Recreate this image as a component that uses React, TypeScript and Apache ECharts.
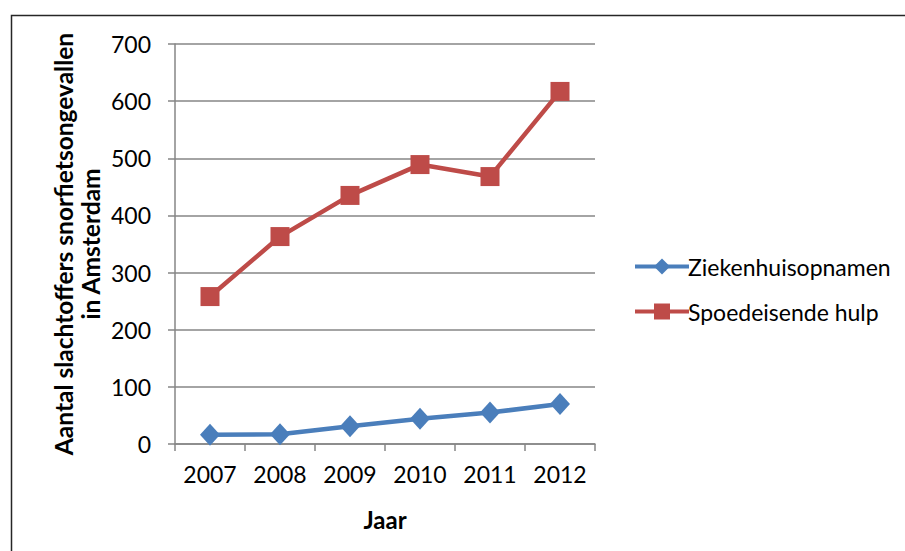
import React, { useEffect, useRef } from "react";
import * as echarts from "echarts";

const categories = ["2007", "2008", "2009", "2010", "2011", "2012"];
const ziekenhuisopnamen = [16, 17, 31, 44, 55, 70];
const spoedeisendeHulp = [258, 363, 435, 489, 468, 617];
const seriesNames = ["Ziekenhuisopnamen", "Spoedeisende hulp"];
const yAxisTitle = "Aantal slachtoffers snorfietsongevallen\nin Amsterdam";
const xAxisTitle = "Jaar";

const FONT = "Lato, 'Open Sans', sans-serif";

export default function App() {
  const ref = useRef<HTMLDivElement>(null);
  useEffect(() => {
    if (!ref.current) return;
    const chart = echarts.init(ref.current, null, { renderer: "svg" });
    chart.setOption({
      animation: false,
      backgroundColor: "#ffffff",
      textStyle: { fontFamily: FONT },
      graphic: [
        {
          type: "rect",
          shape: { x: 11.5, y: 15.5, width: 910, height: 560 },
          style: { fill: "none", stroke: "#262626", lineWidth: 1.5 },
          silent: true,
        },
      ],
      grid: { left: 175, right: 310, top: 44, bottom: 107, containLabel: false },
      legend: {
        orient: "vertical",
        left: 628,
        top: 250,
        itemWidth: 54,
        itemHeight: 20,
        itemGap: 22,
        lineStyle: { width: 4 },
        textStyle: { fontSize: 23, color: "#000", fontFamily: FONT, padding: [0, 0, 0, -6] },
        data: seriesNames,
      },
      xAxis: {
        type: "category",
        data: categories,
        boundaryGap: true,
        axisLine: { lineStyle: { color: "#868686", width: 1.5 } },
        axisTick: { show: true, length: 7, lineStyle: { color: "#868686", width: 1.5 } },
        axisLabel: { color: "#000", fontSize: 23, margin: 18, fontFamily: FONT },
        name: xAxisTitle,
        nameLocation: "middle",
        nameGap: 63,
        nameTextStyle: { color: "#000", fontSize: 24, fontWeight: "bold", fontFamily: FONT },
      },
      yAxis: {
        type: "value",
        min: 0,
        max: 700,
        interval: 100,
        axisLine: { show: true, lineStyle: { color: "#868686", width: 1.5 } },
        axisTick: { show: true, length: 7, lineStyle: { color: "#868686", width: 1.5 } },
        splitLine: { lineStyle: { color: "#868686", width: 1.5 } },
        axisLabel: { color: "#000", fontSize: 23, margin: 24, fontFamily: FONT },
        name: yAxisTitle,
        nameLocation: "middle",
        nameGap: 71,
        nameRotate: 90,
        nameTextStyle: {
          color: "#000",
          fontSize: 24.5,
          fontWeight: "bold",
          lineHeight: 27,
          fontFamily: FONT,
          align: "center",
        },
      },
      series: [
        {
          name: seriesNames[0],
          type: "line",
          data: ziekenhuisopnamen,
          symbol: "diamond",
          symbolSize: [20, 22],
          lineStyle: { color: "#4A7EBB", width: 4.5 },
          itemStyle: { color: "#4A7EBB" },
        },
        {
          name: seriesNames[1],
          type: "line",
          data: spoedeisendeHulp,
          symbol: "rect",
          symbolSize: 19,
          lineStyle: { color: "#BE4B48", width: 4.5 },
          itemStyle: { color: "#BE4B48" },
        },
      ],
    });
    return () => chart.dispose();
  }, []);
  return (
    <div
      ref={ref}
      style={{ position: "fixed", left: 0, top: 0, width: 905, height: 551 }}
    />
  );
}
